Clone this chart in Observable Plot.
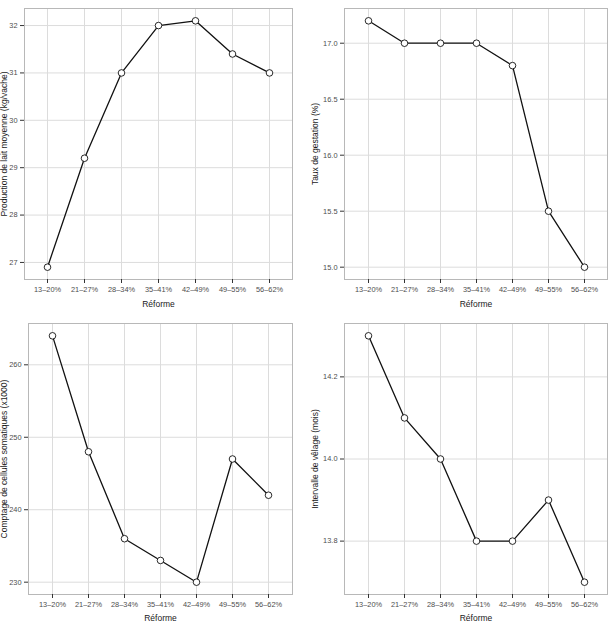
<!DOCTYPE html>
<html>
<head>
<meta charset="utf-8">
<script src="https://cdn.jsdelivr.net/npm/d3@7"></script>
<script src="https://cdn.jsdelivr.net/npm/@observablehq/plot@0.6"></script>
<style>
  html, body { margin: 0; padding: 0; background: #fff; }
  #grid { display: flex; flex-wrap: wrap; width: 612px; }
  #grid svg { display: block; }
</style>
</head>
<body>
<div id="grid"></div>
<script>
const categories = ["13–20%", "21–27%", "28–34%", "35–41%", "42–49%", "49–55%", "56–62%"];
const milk = [26.9, 29.2, 31.0, 32.0, 32.1, 31.4, 31.0];
const gestation = [17.2, 17.0, 17.0, 17.0, 16.8, 15.5, 15.0];
const scc = [264, 248, 236, 233, 230, 247, 242];
const calving = [14.3, 14.1, 14.0, 13.8, 13.8, 13.9, 13.7];

const milkTicks = [27, 28, 29, 30, 31, 32];
const gestationTicks = [15.0, 15.5, 16.0, 16.5, 17.0];
const sccTicks = [230, 240, 250, 260];
const calvingTicks = [13.8, 14.0, 14.2];

const xLabel = "Réforme";
const milkLabel = "Production de lait moyenne (kg/vache)";
const gestationLabel = "Taux de gestation (%)";
const sccLabel = "Comptage de cellules somatiques (x1000)";
const calvingLabel = "Intervalle de vêlage (mois)";

function expand(vals) {
  const lo = d3.min(vals), hi = d3.max(vals), e = (hi - lo) * 0.05;
  return [lo - e, hi + e];
}

function panel(o) {
  const data = categories.map((c, i) => ({c, v: o.values[i]}));
  const svg = Plot.plot({
    width: 306,
    height: o.height,
    marginLeft: o.mL, marginRight: o.mR, marginTop: o.mT, marginBottom: o.mB,
    style: {fontFamily: "'Liberation Sans', Arial, sans-serif", fontSize: "7.4px", color: "#4d4d4d", background: "#fff"},
    x: {type: "point", domain: categories, padding: 0.6},
    y: {domain: expand(o.values)},
    marks: [
      Plot.gridX(categories, {stroke: "#dcdcdc", strokeOpacity: 1, strokeWidth: 1}),
      Plot.gridY(o.ticks, {stroke: "#dcdcdc", strokeOpacity: 1, strokeWidth: 1}),
      Plot.frame({stroke: "#b8b8b8", strokeWidth: 1}),
      Plot.axisX(categories, {tickSize: 4, tickPadding: 3, stroke: "#333", fill: "#4d4d4d",
        label: xLabel, labelAnchor: "center", labelArrow: "none", labelOffset: o.xOff}),
      Plot.axisY(o.ticks, {tickSize: 4, tickPadding: 3, stroke: "#333", fill: "#4d4d4d", tickFormat: o.fmt,
        label: o.label, labelAnchor: "center", labelArrow: "none", labelOffset: o.yOff}),
      Plot.line(data, {x: "c", y: "v", stroke: "#111", strokeWidth: 1.3}),
      Plot.dot(data, {x: "c", y: "v", r: 3.3, fill: "#fff", stroke: "#111", strokeWidth: 0.9})
    ]
  });
  d3.select(svg).selectAll('g[aria-label$="axis label"]').attr("font-size", 8.5).attr("fill", "#1a1a1a");
  document.getElementById("grid").appendChild(svg);
}

panel({values: milk, ticks: milkTicks, label: milkLabel, fmt: d3.format("d"),
  height: 310, mL: 24, mR: 14, mT: 8, mB: 31, xOff: 27, yOff: 23.5});
panel({values: gestation, ticks: gestationTicks, label: gestationLabel, fmt: d3.format(".1f"),
  height: 310, mL: 38, mR: 5, mT: 8, mB: 31, xOff: 27, yOff: 33});
panel({values: scc, ticks: sccTicks, label: sccLabel, fmt: d3.format("d"),
  height: 311, mL: 28, mR: 14, mT: 13, mB: 27, xOff: 26, yOff: 27.5});
panel({values: calving, ticks: calvingTicks, label: calvingLabel, fmt: d3.format(".1f"),
  height: 311, mL: 38, mR: 5, mT: 13, mB: 27, xOff: 26, yOff: 33});
</script>
</body>
</html>
